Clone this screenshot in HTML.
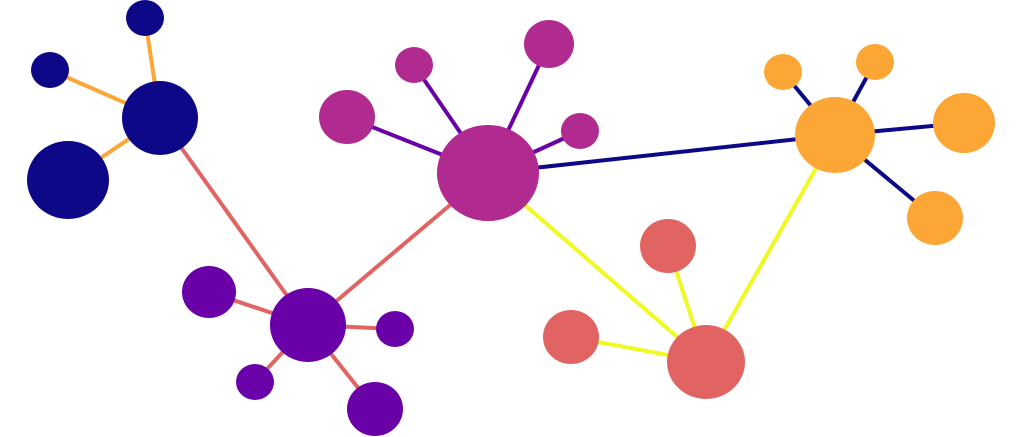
<!DOCTYPE html>
<html><head><meta charset="utf-8"><style>html,body{margin:0;padding:0;background:#fff}svg{display:block}</style></head>
<body>
<svg width="1023" height="437" viewBox="0 0 1023 437" xmlns="http://www.w3.org/2000/svg">
<g stroke-width="4" fill="none">
<line x1="160" y1="118" x2="145" y2="18" stroke="#fca636"/>
<line x1="160" y1="118" x2="50" y2="70" stroke="#fca636"/>
<line x1="160" y1="118" x2="68" y2="180" stroke="#fca636"/>
<line x1="160" y1="118" x2="308" y2="325" stroke="#e16462"/>
<line x1="308" y1="325" x2="488" y2="173" stroke="#e16462"/>
<line x1="308" y1="325" x2="209" y2="292" stroke="#e16462"/>
<line x1="308" y1="325" x2="395" y2="329" stroke="#e16462"/>
<line x1="308" y1="325" x2="255" y2="382" stroke="#e16462"/>
<line x1="308" y1="325" x2="375" y2="409" stroke="#e16462"/>
<line x1="488" y1="173" x2="414" y2="65" stroke="#6a00a8"/>
<line x1="488" y1="173" x2="347" y2="117" stroke="#6a00a8"/>
<line x1="488" y1="173" x2="549" y2="44" stroke="#6a00a8"/>
<line x1="488" y1="173" x2="580" y2="131" stroke="#6a00a8"/>
<line x1="488" y1="173" x2="835" y2="135" stroke="#0d0887"/>
<line x1="488" y1="173" x2="706" y2="362" stroke="#f0f921"/>
<line x1="835" y1="135" x2="706" y2="362" stroke="#f0f921"/>
<line x1="835" y1="135" x2="783" y2="72" stroke="#0d0887"/>
<line x1="835" y1="135" x2="875" y2="62" stroke="#0d0887"/>
<line x1="835" y1="135" x2="964" y2="123" stroke="#0d0887"/>
<line x1="835" y1="135" x2="935" y2="218" stroke="#0d0887"/>
<line x1="706" y1="362" x2="668" y2="246" stroke="#f0f921"/>
<line x1="706" y1="362" x2="571" y2="337" stroke="#f0f921"/>
</g>
<g fill="#0d0887">
<ellipse cx="160" cy="118" rx="38" ry="37"/>
<ellipse cx="145" cy="18" rx="19" ry="18"/>
<ellipse cx="50" cy="70" rx="19" ry="18"/>
<ellipse cx="68" cy="180" rx="41" ry="39"/>
</g>
<g fill="#6a00a8">
<ellipse cx="308" cy="325" rx="38" ry="37"/>
<ellipse cx="209" cy="292" rx="27" ry="26"/>
<ellipse cx="395" cy="329" rx="19" ry="18"/>
<ellipse cx="255" cy="382" rx="19" ry="18"/>
<ellipse cx="375" cy="409" rx="28" ry="27"/>
</g>
<g fill="#b12a90">
<ellipse cx="488" cy="173" rx="51" ry="48"/>
<ellipse cx="414" cy="65" rx="19" ry="18"/>
<ellipse cx="347" cy="117" rx="28" ry="27"/>
<ellipse cx="549" cy="44" rx="25" ry="24"/>
<ellipse cx="580" cy="131" rx="19" ry="18"/>
</g>
<g fill="#fca636">
<ellipse cx="835" cy="135" rx="40" ry="38"/>
<ellipse cx="783" cy="72" rx="19" ry="18"/>
<ellipse cx="875" cy="62" rx="19" ry="18"/>
<ellipse cx="964" cy="123" rx="31" ry="30"/>
<ellipse cx="935" cy="218" rx="28" ry="27"/>
</g>
<g fill="#e16462">
<ellipse cx="706" cy="362" rx="39" ry="37"/>
<ellipse cx="668" cy="246" rx="28" ry="27"/>
<ellipse cx="571" cy="337" rx="28" ry="27"/>
</g>
</svg>
</body></html>
